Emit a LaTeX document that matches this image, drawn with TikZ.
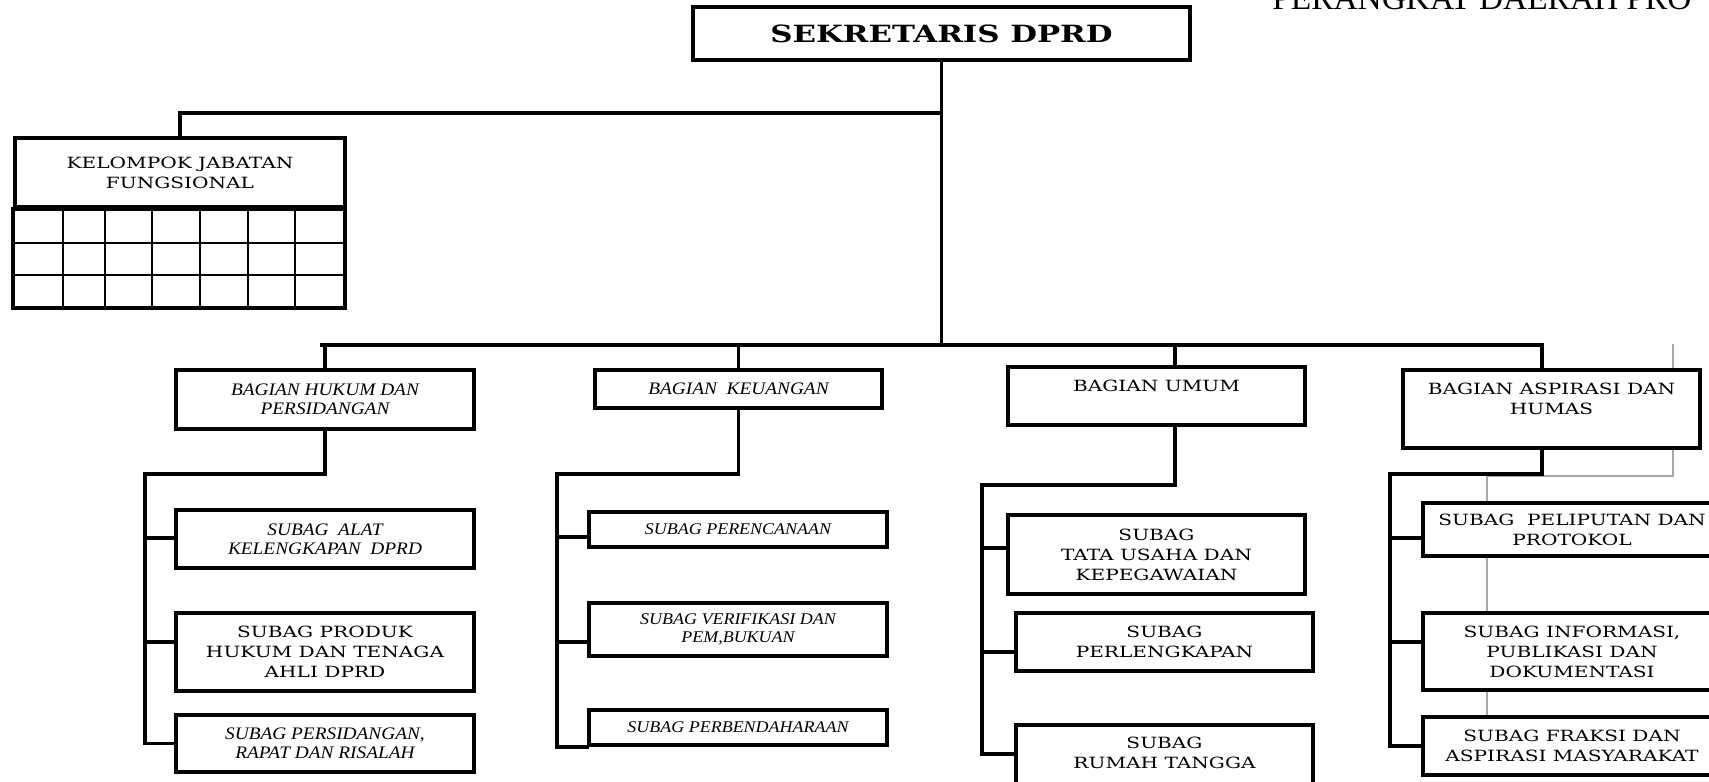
\documentclass[tikz,border=0pt]{standalone}
\usepackage{fontspec}
\setmainfont{DejaVu Serif}[FakeStretch=1.3]
\newfontfamily\italicSerif{Liberation Serif}[FakeStretch=1.1]
\newfontfamily\headerSerif{Liberation Serif}

\newcommand{\pixelUnit}{0.02cm}
\newcommand{\boxLineWidth}{2.2pt}
\newcommand{\gridLineWidth}{1.6pt}
\newcommand{\uprightText}{\fontsize{8.8}{11.4}\selectfont}
\newcommand{\italicText}{\italicSerif\itshape\fontsize{10}{10.8}\selectfont}
\newcommand{\smallItalicText}{\italicSerif\itshape\fontsize{9.3}{10.2}\selectfont}

\begin{document}
\begin{tikzpicture}[x=\pixelUnit,y=-\pixelUnit]
\tikzstyle{orgBox}=[rectangle,draw,fill=white,line width=\boxLineWidth,align=center,inner sep=0pt,font=\uprightText]
\tikzstyle{italicBox}=[font=\italicText]
\tikzstyle{smallItalicBox}=[font=\smallItalicText]
\tikzstyle{orgEdge}=[line width=\boxLineWidth,line cap=rect]
\tikzstyle{gridLine}=[line width=\gridLineWidth]
\tikzstyle{ghostLine}=[draw=gray!70,line width=0.8pt]
\useasboundingbox (0,0) rectangle (1709,781);
% stray thin lines round the last column
\draw[ghostLine] (1673,344) -- (1673,370);
\draw[ghostLine] (1673,448) -- (1673,476) -- (1487,476) -- (1487,717);
\node[anchor=base west,inner sep=0pt,font=\headerSerif\fontsize{19}{22}\selectfont] (pageTitle) at (1272,10) {PERANGKAT DAERAH PRO};
\node[orgBox,font=\bfseries\fontsize{13.5}{16}\selectfont,minimum width=497*\pixelUnit,minimum height=53*\pixelUnit] (sekretaris) at (941.5,33.5) {SEKRETARIS DPRD};
\node[orgBox,minimum width=330*\pixelUnit,minimum height=69*\pixelUnit] (kjf) at (180,172.5) {KELOMPOK JABATAN\\FUNGSIONAL};
\foreach \gx in {63,105,152,200,248,295} \draw[gridLine] (\gx,207) -- (\gx,308);
\foreach \gy in {243,275} \draw[gridLine] (15,\gy) -- (345,\gy);
\draw[orgEdge] (kjf.south west) rectangle (345,308);
\coordinate (busLeft) at (322,345);
\coordinate (busRight) at (1542,345);
\coordinate (umumDrop) at (1175,345);
% bagian
\node[orgBox,italicBox,minimum width=298*\pixelUnit,minimum height=59*\pixelUnit] (bHukum) at (325,399.5) {BAGIAN HUKUM DAN\\PERSIDANGAN};
\node[orgBox,italicBox,minimum width=287*\pixelUnit,minimum height=38*\pixelUnit] (bKeuangan) at (738.5,389) {BAGIAN\ \ KEUANGAN};
\node[orgBox,minimum width=297*\pixelUnit,minimum height=58*\pixelUnit] (bUmum) at (1156.5,396) {BAGIAN UMUM\\~};
\node[orgBox,minimum width=297*\pixelUnit,minimum height=78*\pixelUnit] (bAspirasi) at (1551.5,409) {BAGIAN ASPIRASI DAN\\HUMAS\\~};
% subag
\node[orgBox,italicBox,minimum width=298*\pixelUnit,minimum height=58*\pixelUnit] (sAlat) at (325,539) {SUBAG\ \ ALAT\\KELENGKAPAN\ \ DPRD};
\node[orgBox,minimum width=298*\pixelUnit,minimum height=78*\pixelUnit] (sProduk) at (325,652) {SUBAG PRODUK\\HUKUM DAN TENAGA\\AHLI DPRD};
\node[orgBox,italicBox,minimum width=298*\pixelUnit,minimum height=57*\pixelUnit] (sSidang) at (325,743.5) {SUBAG PERSIDANGAN,\\RAPAT DAN RISALAH};
\node[orgBox,smallItalicBox,minimum width=298*\pixelUnit,minimum height=35*\pixelUnit] (sRencana) at (738,529.5) {SUBAG PERENCANAAN};
\node[orgBox,smallItalicBox,minimum width=298*\pixelUnit,minimum height=53*\pixelUnit] (sVerif) at (738,629.5) {SUBAG VERIFIKASI DAN\\PEM,BUKUAN};
\node[orgBox,smallItalicBox,minimum width=298*\pixelUnit,minimum height=35*\pixelUnit] (sBendahara) at (738,727.5) {SUBAG PERBENDAHARAAN};
\node[orgBox,minimum width=297*\pixelUnit,minimum height=79*\pixelUnit] (sTata) at (1156.5,554.5) {SUBAG\\TATA USAHA DAN\\KEPEGAWAIAN};
\node[orgBox,minimum width=297*\pixelUnit,minimum height=58*\pixelUnit] (sLengkap) at (1164.5,642) {SUBAG\\PERLENGKAPAN};
\node[orgBox,minimum width=297*\pixelUnit,minimum height=76*\pixelUnit] (sRumah) at (1164.5,763) {SUBAG\\RUMAH TANGGA\\~};
\node[orgBox,minimum width=298*\pixelUnit,minimum height=53*\pixelUnit] (sLiput) at (1572,529.5) {SUBAG\ \ PELIPUTAN DAN\\PROTOKOL};
\node[orgBox,minimum width=298*\pixelUnit,minimum height=77*\pixelUnit] (sInfo) at (1572,651.5) {SUBAG INFORMASI,\\PUBLIKASI DAN\\DOKUMENTASI};
\node[orgBox,minimum width=298*\pixelUnit,minimum height=58*\pixelUnit] (sFraksi) at (1572,746) {SUBAG FRAKSI DAN\\ASPIRASI MASYARAKAT};
% top level
\draw[orgEdge] (sekretaris.south) -- (sekretaris.south |- busLeft);
\draw[orgEdge] (sekretaris.south |- 0,113) -| (kjf.north);
\draw[orgEdge] (busLeft) -- (busRight);
\draw[orgEdge] (busLeft -| bHukum.north) -- (bHukum.north);
\draw[orgEdge] (busLeft -| bKeuangan.north) -- (bKeuangan.north);
\draw[orgEdge] (umumDrop) -- (umumDrop |- bUmum.north);
\draw[orgEdge] (busRight) -- (busRight |- bAspirasi.north);
% hukum
\coordinate (hukumSpine) at (145,474);
\draw[orgEdge] (bHukum.south) |- (hukumSpine) |- (sSidang.west);
\draw[orgEdge] (hukumSpine |- 0,538) -- (sAlat.west |- 0,538);
\draw[orgEdge] (hukumSpine |- 0,642) -- (sProduk.west |- 0,642);
% keuangan
\coordinate (keuSpine) at (557,474);
\draw[orgEdge] (bKeuangan.south) |- (keuSpine) |- (sBendahara.south west);
\draw[orgEdge] (keuSpine |- 0,537) -- (sRencana.west |- 0,537);
\draw[orgEdge] (keuSpine |- 0,642) -- (sVerif.west |- 0,642);
% umum
\coordinate (umumSpine) at (982,485);
\draw[orgEdge] (umumDrop |- bUmum.south) |- (umumSpine) |- (sRumah.west |- 0,754);
\draw[orgEdge] (umumSpine |- 0,548) -- (sTata.west |- 0,548);
\draw[orgEdge] (umumSpine |- 0,652) -- (sLengkap.west |- 0,652);
% aspirasi
\coordinate (aspSpine) at (1390,474);
\draw[orgEdge] (busRight |- bAspirasi.south) |- (aspSpine) |- (sFraksi.west);
\draw[orgEdge] (aspSpine |- 0,538) -- (sLiput.west |- 0,538);
\draw[orgEdge] (aspSpine |- 0,642) -- (sInfo.west |- 0,642);
\end{tikzpicture}
\end{document}
